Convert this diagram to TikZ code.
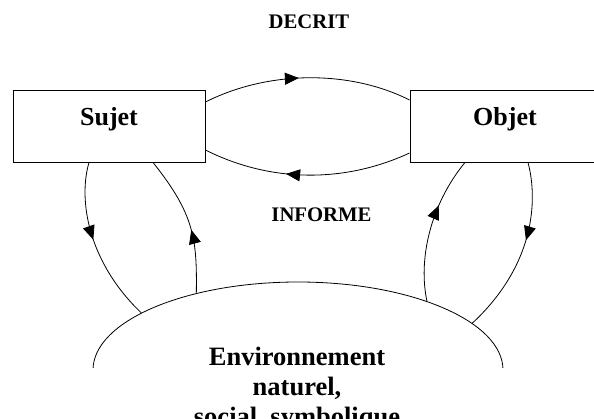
\documentclass[tikz,border=0pt]{standalone}
\usepackage{fontspec}
\setmainfont{Liberation Serif}
\usetikzlibrary{arrows.meta,decorations.markings,shapes.geometric}
\begin{document}
\begin{tikzpicture}[x=1pt,y=-1pt,
  box/.style={draw,line width=0.9pt,minimum width=192pt,minimum height=72pt,inner sep=0pt,
    text height=17pt,text depth=17pt,font=\fontsize{26}{30}\selectfont\bfseries},
  lbl/.style={anchor=base,font=\fontsize{20.7}{24}\selectfont\bfseries},
  flow/.style={line width=0.8pt,postaction={decorate},
    decoration={markings,mark=at position #1 with {\arrow{Triangle[length=14pt,width=12pt]}}}}]
\useasboundingbox (0,0) rectangle (594,419);
\clip (0,0) rectangle (594,419);
\node[box] (sujet) at (109,126) {Sujet};
\node[box,minimum width=190pt] (objet) at (505,126) {Objet};
\node[ellipse,minimum width=410pt,minimum height=176pt,inner sep=0pt] (env) at (298,370) {};
\begin{scope}
\clip (0,0) rectangle (594,367);
\draw[line width=0.8pt] (env.center) ellipse [x radius=205pt,y radius=88pt];
\end{scope}
\node[anchor=base,align=center,font=\fontsize{26.5}{30}\selectfont\bfseries] (envlbl) at (297,425)
  {Environnement\\naturel,\\social, symbolique};
\node[lbl] (decrit) at (309,29) {DECRIT};
\node[lbl] (informe) at (321.5,222) {INFORME};
\draw[flow=0.46] ([yshift=24pt]sujet.east) .. controls (269,70) and (350,70) .. ([yshift=26pt]objet.west);
\draw[flow=0.6] ([yshift=-27pt]objet.west) .. controls (345,183) and (271,183) .. ([yshift=-24pt]sujet.east);
\draw[flow=0.47] ([xshift=-20pt]sujet.south) .. controls (78,200) and (88,262) .. (env.160.8);
\draw[flow=0.45] (env.143.2) .. controls (197,240) and (195,215) .. ([xshift=44pt]sujet.south);
\draw[flow=0.66] (env.28.9) .. controls (418,260) and (430,205) .. ([xshift=-40pt]objet.south);
\draw[flow=0.44] ([xshift=23pt]objet.south) .. controls (538,200) and (535,265) .. (env.15.4);
\end{tikzpicture}
\end{document}
